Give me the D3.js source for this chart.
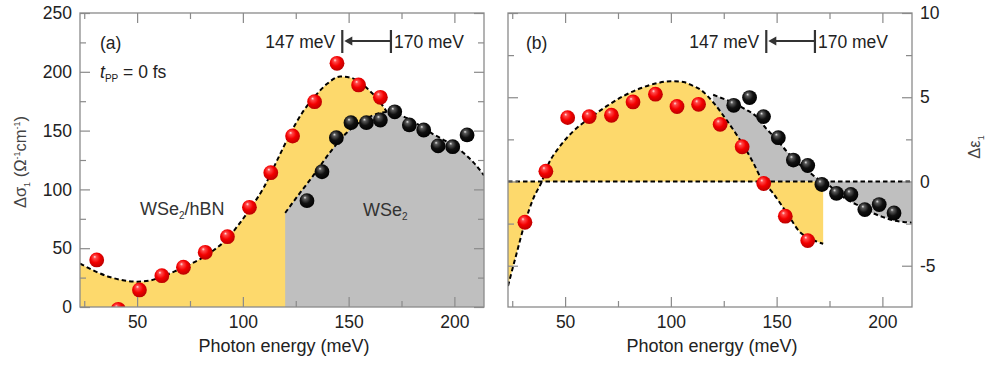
<!DOCTYPE html>
<html><head><meta charset="utf-8">
<script src="https://cdn.jsdelivr.net/npm/d3@7"></script>
<style>
body{margin:0;background:#fff;}
svg{display:block;font-family:"Liberation Sans",Arial,sans-serif;}
</style></head>
<body><svg id="c" width="987" height="365"></svg>
<script>
// ---------------- data ----------------
const xMajorTicks = [50, 100, 150, 200];
const xMinorTicks = [25, 75, 125, 175];
const yAMajorTicks = [0, 50, 100, 150, 200, 250];
const yAMinorTicks = [25, 75, 125, 175, 225];
const yBMajorTicks = [-5, 0, 5, 10];
const yBMinorTicks = [-2.5, 2.5, 7.5];

// panel (a): delta sigma_1
const aRedX = [30.9, 41.1, 51.1, 61.7, 71.9, 82.2, 92.7, 103.1, 113.2, 123.5, 133.9, 144.5, 154.7, 165.0];
const aRedY = [40, -2, 14.5, 26.6, 33.8, 46.5, 59.8, 84.8, 114.2, 145.4, 174.6, 207.2, 188.8, 178.3];
const aBlackX = [130.3, 137.4, 144.2, 151.1, 158.4, 165.0, 171.8, 178.7, 185.5, 192.3, 199.2, 206.0];
const aBlackY = [90.4, 115, 144, 156.7, 156.7, 159, 166, 154.8, 150.5, 137, 136.3, 146.3];
// fit curves
const aHbnCurveX = [23, 30, 37, 44, 50, 56, 62, 68, 74, 80, 86, 92, 98, 104, 110, 116, 122, 128, 134, 140, 146, 151, 156, 161, 165, 168];
const aHbnCurveY = [37, 30.5, 25.5, 22.5, 21.5, 22.5, 26, 30.5, 35.5, 41, 48, 57, 70, 85, 102, 124, 146, 165, 179, 190, 196, 195, 190, 182, 174, 166];
const aWse2CurveX = [120, 127, 133, 141, 149, 157, 165, 170, 176, 183, 189, 196, 203, 209, 214];
const aWse2CurveY = [80, 97, 111, 131, 148, 159, 165, 166, 162, 155, 148, 141, 133, 123, 112];

// panel (b): delta epsilon_1
const bRedX = [31.0, 40.9, 51.2, 61.4, 71.9, 82.1, 92.7, 102.9, 113.1, 123.3, 133.7, 143.9, 154.1, 164.7];
const bRedY = [-2.42, 0.61, 3.79, 3.85, 3.93, 4.72, 5.18, 4.45, 4.58, 3.39, 2.06, -0.12, -2.06, -3.51];
const bBlackX = [129.7, 137.2, 143.8, 150.8, 157.9, 164.7, 171.4, 178.3, 185.1, 191.7, 198.5, 205.5];
const bBlackY = [4.52, 4.98, 3.85, 2.6, 1.27, 0.95, -0.18, -0.71, -0.77, -1.67, -1.37, -1.87];
const bHbnCurveX = [23, 27, 31, 35, 39, 42, 47, 54, 62, 70, 78, 86, 94, 100, 106, 110, 114, 120, 126, 132, 139, 143, 148, 155, 161, 166, 172];
const bHbnCurveY = [-6.2, -4.3, -2.45, -1.0, 0, 1.0, 2.0, 3.0, 3.8, 4.5, 5.1, 5.55, 5.85, 5.95, 5.9, 5.7, 5.45, 4.7, 3.7, 2.6, 1.1, 0.1, -0.65, -1.9, -3.0, -3.4, -3.7];
const bWse2CurveX = [120, 125, 130, 135, 140, 145, 150, 155, 160, 165, 170, 175, 180, 185, 190, 195, 200, 205, 210, 214];
const bWse2CurveY = [5.15, 4.9, 4.65, 4.3, 3.9, 3.15, 2.5, 1.75, 1.1, 0.6, 0.1, -0.25, -0.8, -1.2, -1.5, -1.85, -2.1, -2.3, -2.4, -2.45];

const shiftFrom = 170, shiftTo = 147;   // meV annotation

// ---------------- drawing ----------------
const svg = d3.select("#c");
const YELLOW = "#fdd96c", GRAY = "#bfbfbf", FRAME = "#8a8a8a", TXT = "#222";

const defs = svg.append("defs");
function sphereGrad(id, c0, c1, c2, c3) {
  const g = defs.append("radialGradient").attr("id", id)
    .attr("cx", "0.45").attr("cy", "0.42").attr("r", "0.6")
    .attr("fx", "0.36").attr("fy", "0.28");
  g.append("stop").attr("offset", "0%").attr("stop-color", c0);
  g.append("stop").attr("offset", "18%").attr("stop-color", c1);
  g.append("stop").attr("offset", "55%").attr("stop-color", c2);
  g.append("stop").attr("offset", "100%").attr("stop-color", c3);
}
sphereGrad("gRed", "#ffe6e6", "#ff4a4a", "#f40000", "#b80000");
sphereGrad("gBlack", "#e8e8e8", "#5a5a5a", "#111", "#000");

const zip = (xs, ys) => xs.map((x, i) => [x, ys[i]]);

function panel(opts) {
  const {x0, x1, y0, y1, yDomain} = opts;
  const x = d3.scaleLinear().domain([23, 214]).range([x0, x1]);
  const y = d3.scaleLinear().domain(yDomain).range([y1, y0]);
  const g = svg.append("g");
  const clipId = "clip" + opts.name;
  defs.append("clipPath").attr("id", clipId).append("rect")
    .attr("x", x0).attr("y", y0).attr("width", x1 - x0).attr("height", y1 - y0);
  const plot = g.append("g").attr("clip-path", `url(#${clipId})`);
  return {x, y, g, plot};
}

function axes(p, o) {
  const {x, y, g} = p;
  const style = sel => { sel.select(".domain").remove();
    sel.selectAll(".tick line").attr("stroke", FRAME).attr("stroke-width", 1.2);
    sel.selectAll("text").attr("fill", TXT).style("font-size", "17.5px")
      .style("font-family", '"Liberation Sans", Arial, sans-serif'); };
  // bottom
  g.append("g").attr("transform", `translate(0,${o.y1})`)
    .call(d3.axisBottom(x).tickValues(xMajorTicks).tickSize(-10).tickPadding(9).tickFormat(d3.format("d"))).call(style);
  g.append("g").attr("transform", `translate(0,${o.y1})`)
    .call(d3.axisBottom(x).tickValues(xMinorTicks).tickSize(-6).tickFormat("")).call(style);
  // top
  g.append("g").attr("transform", `translate(0,${o.y0})`)
    .call(d3.axisTop(x).tickValues(xMajorTicks).tickSize(-10).tickFormat("")).call(style);
  g.append("g").attr("transform", `translate(0,${o.y0})`)
    .call(d3.axisTop(x).tickValues(xMinorTicks).tickSize(-6).tickFormat("")).call(style);
  // left
  g.append("g").attr("transform", `translate(${o.x0},0)`)
    .call(d3.axisLeft(y).tickValues(o.yMajor).tickSize(-10).tickPadding(o.yLabelsSide === "left" ? 8 : 0)
      .tickFormat(o.yLabelsSide === "left" ? d3.format("d") : "")).call(style);
  g.append("g").attr("transform", `translate(${o.x0},0)`)
    .call(d3.axisLeft(y).tickValues(o.yMinor).tickSize(-6).tickFormat("")).call(style);
  // right
  g.append("g").attr("transform", `translate(${o.x1},0)`)
    .call(d3.axisRight(y).tickValues(o.yMajor).tickSize(-10).tickPadding(8)
      .tickFormat(o.yLabelsSide === "right" ? (d => d3.format("d")(d).replace("−", "-")) : "")).call(style);
  g.append("g").attr("transform", `translate(${o.x1},0)`)
    .call(d3.axisRight(y).tickValues(o.yMinor).tickSize(-6).tickFormat("")).call(style);
  // frame
  g.append("rect").attr("x", o.x0).attr("y", o.y0).attr("width", o.x1 - o.x0).attr("height", o.y1 - o.y0)
    .attr("fill", "none").attr("stroke", FRAME).attr("stroke-width", 1.3);
  // x title
  g.append("text").attr("x", (o.x0 + o.x1) / 2 + 2).attr("y", 352).attr("text-anchor", "middle")
    .attr("fill", TXT).style("font-size", "18px").text("Photon energy (meV)");
}

function dashed(sel, d) {
  sel.append("path").attr("d", d).attr("fill", "none").attr("stroke", "#000")
    .attr("stroke-width", 2).attr("stroke-dasharray", "4.5,3");
}

function spheres(p, xs, ys, grad) {
  p.plot.append("g").selectAll("circle").data(zip(xs, ys)).join("circle")
    .attr("cx", d => p.x(d[0])).attr("cy", d => p.y(d[1])).attr("r", 7.4)
    .attr("fill", `url(#${grad})`);
}

function shiftAnnot(p, dx) {
  const g = p.g, yL = 41, xa = p.x(shiftTo) + dx, xb = p.x(shiftFrom) + dx;
  g.append("line").attr("x1", xa).attr("x2", xa).attr("y1", 30).attr("y2", 53).attr("stroke", "#333").attr("stroke-width", 2.2);
  g.append("line").attr("x1", xb).attr("x2", xb).attr("y1", 30).attr("y2", 53).attr("stroke", "#333").attr("stroke-width", 2.2);
  g.append("line").attr("x1", xa + 6).attr("x2", xb).attr("y1", yL).attr("y2", yL).attr("stroke", "#333").attr("stroke-width", 1.8);
  g.append("path").attr("d", `M${xa + 2},${yL} L${xa + 10},${yL - 4.5} L${xa + 10},${yL + 4.5} Z`).attr("fill", "#333");
  g.append("text").attr("x", xa - 7).attr("y", 48).attr("text-anchor", "end").attr("fill", TXT)
    .style("font-size", "17.5px").text(`${shiftTo} meV`);
  g.append("text").attr("x", xb + 3).attr("y", 48).attr("fill", TXT)
    .style("font-size", "17.5px").text(`${shiftFrom} meV`);
}

const line = (p) => d3.line().x(d => p.x(d[0])).y(d => p.y(d[1])).curve(d3.curveMonotoneX);
const area = (p) => d3.area().x(d => p.x(d[0])).y0(p.y(0)).y1(d => p.y(d[1])).curve(d3.curveMonotoneX);

// ---- panel (a)
const oA = {name: "A", x0: 80, x1: 484, y0: 13, y1: 307, yDomain: [0, 250], yMajor: yAMajorTicks, yMinor: yAMinorTicks, yLabelsSide: "left"};
const A = panel(oA);
const aH = zip(aHbnCurveX, aHbnCurveY), aW = zip(aWse2CurveX, aWse2CurveY);
A.plot.append("path").attr("d", area(A)(aH)).attr("fill", YELLOW);
A.plot.append("path").attr("d", area(A)(aW)).attr("fill", GRAY);
dashed(A.plot, line(A)(aH));
dashed(A.plot, line(A)(aW));
spheres(A, aRedX, aRedY, "gRed");
spheres(A, aBlackX, aBlackY, "gBlack");
axes(A, oA);
shiftAnnot(A, 0);
A.g.append("text").attr("x", 100).attr("y", 49).attr("fill", TXT).style("font-size", "17.5px").text("(a)");
const tpp = A.g.append("text").attr("x", 100).attr("y", 78).attr("fill", TXT).style("font-size", "17.5px");
tpp.append("tspan").style("font-style", "italic").text("t");
tpp.append("tspan").attr("dy", 4).style("font-size", "10px").text("PP");
tpp.append("tspan").attr("dy", -4).text(" = 0 fs");
const t1 = A.g.append("text").attr("x", 140).attr("y", 215).attr("fill", "#333").style("font-size", "18px");
t1.append("tspan").text("WSe");
t1.append("tspan").attr("dy", 4).style("font-size", "10px").text("2");
t1.append("tspan").attr("dy", -4).text("/hBN");
const t2 = A.g.append("text").attr("x", 363).attr("y", 216).attr("fill", "#333").style("font-size", "18px");
t2.append("tspan").text("WSe");
t2.append("tspan").attr("dy", 4).style("font-size", "10px").text("2");
// y title (a)
const yt = svg.append("text").attr("transform", "translate(26,162) rotate(-90)").attr("text-anchor", "middle")
  .attr("fill", "#444").style("font-size", "16.5px");
yt.append("tspan").text("Δσ");
yt.append("tspan").attr("dy", 4).style("font-size", "9px").text("1");
yt.append("tspan").attr("dy", -4).text(" (Ω");
yt.append("tspan").attr("dy", -6).style("font-size", "9px").text("-1");
yt.append("tspan").attr("dy", 6).text("cm");
yt.append("tspan").attr("dy", -6).style("font-size", "9px").text("-1");
yt.append("tspan").attr("dy", 6).text(")");

// ---- panel (b)
const oB = {name: "B", x0: 508, x1: 912, y0: 13, y1: 307, yDomain: [-7.45, 10], yMajor: yBMajorTicks, yMinor: yBMinorTicks, yLabelsSide: "right"};
const B = panel(oB);
const bH = zip(bHbnCurveX, bHbnCurveY), bW = zip(bWse2CurveX, bWse2CurveY);
B.plot.append("path").attr("d", area(B)(bW)).attr("fill", GRAY);
B.plot.append("path").attr("d", area(B)(bH)).attr("fill", YELLOW);
B.plot.append("line").attr("x1", B.x(23)).attr("x2", B.x(214)).attr("y1", B.y(0)).attr("y2", B.y(0))
  .attr("stroke", "#000").attr("stroke-width", 2).attr("stroke-dasharray", "4.5,3");
dashed(B.plot, line(B)(bH));
dashed(B.plot, line(B)(bW));
spheres(B, bRedX, bRedY, "gRed");
spheres(B, bBlackX, bBlackY, "gBlack");
axes(B, oB);
shiftAnnot(B, -4);
B.g.append("text").attr("x", 526).attr("y", 49).attr("fill", TXT).style("font-size", "17.5px").text("(b)");
const yt2 = svg.append("text").attr("transform", "translate(980,147) rotate(-90)").attr("text-anchor", "middle")
  .attr("fill", "#444").style("font-size", "16.5px");
yt2.append("tspan").text("Δε");
yt2.append("tspan").attr("dy", 4).style("font-size", "9px").text("1");
</script></body></html>
